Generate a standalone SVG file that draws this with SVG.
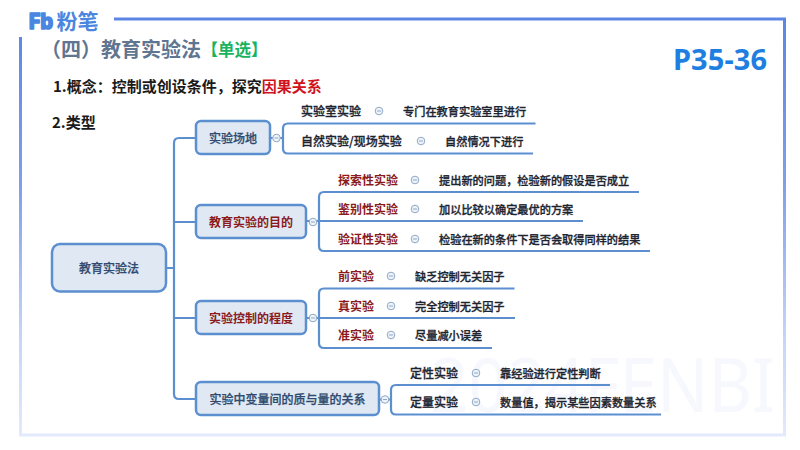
<svg xmlns="http://www.w3.org/2000/svg" width="800" height="450" viewBox="0 0 800 450">
<style>
text{font-family:"Noto Sans CJK SC","Noto Sans",sans-serif;}
.box{fill:#dfe8f3;stroke:#5b8fd0;stroke-width:2.5;}
.conn{fill:none;stroke:#5b8fd0;stroke-width:2.2;}
.t{font-size:12px;font-weight:500;fill:#1c2430;stroke:#1c2430;stroke-width:.3;}
.d{font-size:11.2px;font-weight:500;fill:#1c2430;stroke:#1c2430;stroke-width:.3;}
.r{font-size:12px;font-weight:700;fill:#8a1a1c;}
.n{font-size:12px;font-weight:500;text-anchor:middle;fill:#2f4a6e;stroke:#2f4a6e;stroke-width:.25;}
.nr{font-size:12px;font-weight:700;text-anchor:middle;fill:#8a1a1c;}
.h{font-size:15px;font-weight:700;fill:#1a1a1a;}
.c{fill:#eef3f8;stroke:#8fa8c8;stroke-width:1;}
.m{stroke:#8fa8c8;stroke-width:1;}
</style>
<defs>
<linearGradient id="fr" gradientUnits="userSpaceOnUse" x1="0" y1="19" x2="0" y2="436">
<stop offset="0" stop-color="#5b86e6"/><stop offset="0.4" stop-color="#7f9fec"/><stop offset="0.75" stop-color="#c3d3f8"/><stop offset="1" stop-color="#e2eafc"/>
</linearGradient>
<g id="mn"><circle class="c" r="3.800"/><line class="m" x1="-2" x2="2" y1="0" y2="0"/></g>
</defs>
<rect width="800" height="450" fill="#fff"/>
<text x="430" y="412" font-size="74" fill="#f6f8fe" style="font-family:'Noto Sans',sans-serif" textLength="345" lengthAdjust="spacingAndGlyphs">2024FENBI</text>
<path d="M114 19H784.500V435H20.500V37" fill="none" stroke="url(#fr)" stroke-width="3"/>
<g id="logo">
<text x="29" y="29" font-size="21" font-weight="800" fill="#4a86e0" stroke="#4a86e0" stroke-width="1.500" stroke-linejoin="round" style="font-family:'Inter',sans-serif" textLength="24" lengthAdjust="spacingAndGlyphs">Fb</text>
<text x="56.500" y="29" font-size="21" font-weight="700" fill="#4a86e0">粉笔</text>
</g>
<text x="41" y="57" font-size="20" font-weight="700" fill="#5f7590">（四）教育实验法</text>
<text x="201.500" y="55.500" font-size="16.500" font-weight="700" fill="#19b35f">【单选】</text>
<text x="53" y="92" class="h">1.概念：控制或创设条件，探究<tspan fill="#d0121b">因果关系</tspan></text>
<text x="52" y="128" class="h">2.类型</text>
<text x="673" y="70" font-size="29" font-weight="700" fill="#1e7fe0" style="font-family:'Noto Sans',sans-serif" textLength="94">P35-36</text>
<g id="connectors" class="conn">
<path d="M166 268H174M196 138H179Q174 138 174 143V394Q174 399 179 399H196M174 222H196M174 318H196"/>
<path d="M535.500 123.500H288Q283 123.500 283 128.500V148.500Q283 153.500 288 153.500H533M270 138H283"/>
<path d="M639 192H324Q319 192 319 197V246Q319 251 324 251H650M319 221H583M306 221H319"/>
<path d="M514.500 288.500H324Q319 288.500 319 293.500V343Q319 348 324 348H492M319 318H515M306 318H319"/>
<path d="M610 385H396Q391 385 391 390V409.500Q391 414.500 396 414.500H661M379 399.500H391"/>
</g>
<g id="root"><rect class="box" x="52" y="244" width="114" height="47.500" rx="8"/><text class="n" x="109" y="273">教育实验法</text></g>
<g id="n1"><rect class="box" x="196" y="121" width="74" height="33" rx="5"/><text class="n" x="233" y="143">实验场地</text><use href="#mn" x="276.500" y="138"/></g>
<g id="n2"><rect class="box" x="196" y="205" width="110" height="33" rx="5"/><text class="nr" x="251" y="227">教育实验的目的</text><use href="#mn" x="313" y="222"/></g>
<g id="n3"><rect class="box" x="196" y="301" width="110" height="33" rx="5"/><text class="nr" x="251" y="323">实验控制的程度</text><use href="#mn" x="313" y="318"/></g>
<g id="n4"><rect class="box" x="196" y="382" width="183" height="33" rx="5"/><text class="n" x="287.500" y="404">实验中变量间的质与量的关系</text><use href="#mn" x="385" y="399.500"/></g>
<g id="l1"><text class="t" x="301" y="116">实验室实验</text><use href="#mn" x="379" y="111"/><text class="d" x="403" y="116">专门在教育实验室里进行</text></g>
<g id="l2"><text class="t" x="301" y="146">自然实验/现场实验</text><use href="#mn" x="421" y="141"/><text class="d" x="445" y="146">自然情况下进行</text></g>
<g id="l3"><text class="r" x="338" y="185">探索性实验</text><use href="#mn" x="415" y="180"/><text class="d" x="439" y="185">提出新的问题，检验新的假设是否成立</text></g>
<g id="l4"><text class="r" x="338" y="214">鉴别性实验</text><use href="#mn" x="415" y="209"/><text class="d" x="439" y="214">加以比较以确定最优的方案</text></g>
<g id="l5"><text class="r" x="338" y="244">验证性实验</text><use href="#mn" x="415" y="239"/><text class="d" x="439" y="244">检验在新的条件下是否会取得同样的结果</text></g>
<g id="l6"><text class="r" x="338" y="281">前实验</text><use href="#mn" x="391" y="276"/><text class="d" x="415" y="281">缺乏控制无关因子</text></g>
<g id="l7"><text class="r" x="338" y="311">真实验</text><use href="#mn" x="391" y="306"/><text class="d" x="415" y="311">完全控制无关因子</text></g>
<g id="l8"><text class="r" x="338" y="340">准实验</text><use href="#mn" x="391" y="335"/><text class="d" x="415" y="340">尽量减小误差</text></g>
<g id="l9"><text class="t" x="410" y="378">定性实验</text><use href="#mn" x="476" y="373"/><text class="d" x="500" y="378">靠经验进行定性判断</text></g>
<g id="l10"><text class="t" x="410" y="407">定量实验</text><use href="#mn" x="476" y="402"/><text class="d" x="500" y="407">数量值，揭示某些因素数量关系</text></g>
</svg>
